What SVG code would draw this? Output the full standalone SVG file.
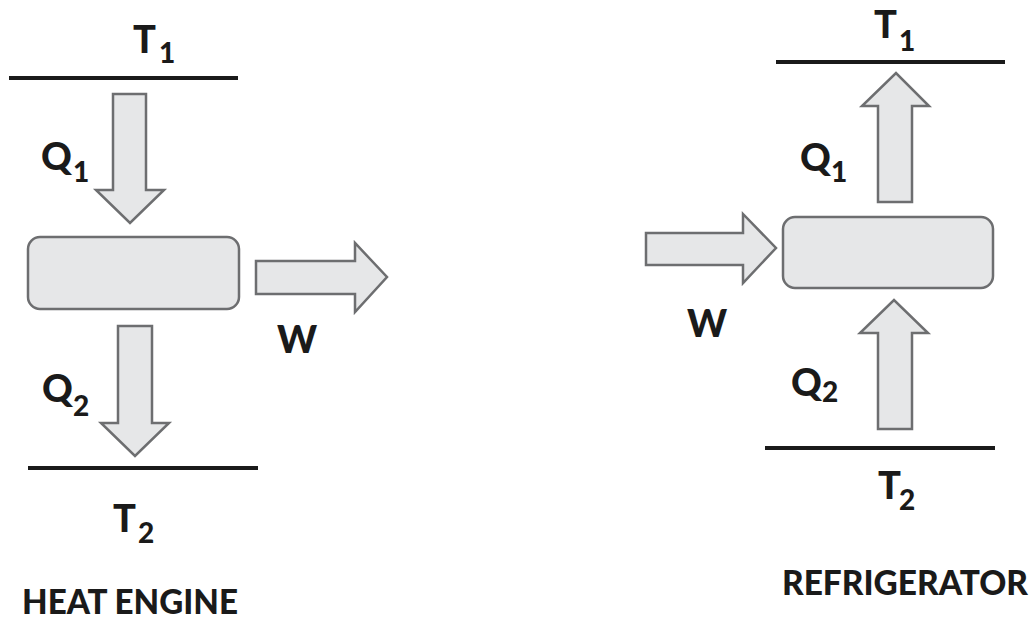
<svg xmlns="http://www.w3.org/2000/svg" width="1032" height="617" viewBox="0 0 1032 617">
<style>
.arr{fill:#e6e7e8;stroke:#6d6e70;stroke-width:2.5;stroke-linejoin:miter}
.box{fill:#e6e7e8;stroke:#6d6e70;stroke-width:2.5}
.res{stroke:#1a1a1a;stroke-width:4}
.lb{font-family:Lato,"Open Sans","Liberation Sans",sans-serif;font-weight:900;fill:#1a1a1a;font-size:38px}
.sb{font-size:28px}
.tt{font-family:Lato,"Open Sans","Liberation Sans",sans-serif;font-weight:900;fill:#1a1a1a;font-size:34px}
</style>
<rect width="1032" height="617" fill="#ffffff"/>
<g id="heat-engine">
  <g id="he-T1"><line class="res" x1="9" y1="78" x2="238" y2="78"/>
    <text class="lb" x="133" y="53">T<tspan class="sb" x="159" y="63">1</tspan></text></g>
  <g id="he-box"><rect class="box" x="28" y="237" width="211" height="72" rx="12"/></g>
  <g id="he-T2"><line class="res" x1="28" y1="468" x2="258" y2="468"/>
    <text class="lb" x="113" y="532">T<tspan class="sb" x="138" y="543">2</tspan></text></g>
  <text class="tt" x="22" y="614" textLength="216" lengthAdjust="spacingAndGlyphs">HEAT ENGINE</text>
</g>
<g id="refrigerator">
  <g id="rf-T1"><line class="res" x1="776" y1="62" x2="1005" y2="62"/>
    <text class="lb" x="874" y="38">T<tspan class="sb" x="899" y="51">1</tspan></text></g>
  <g id="rf-box"><rect class="box" x="783" y="217" width="210" height="71" rx="12"/></g>
  <g id="rf-T2"><line class="res" x1="765" y1="448" x2="995" y2="448"/>
    <text class="lb" x="878" y="499">T<tspan class="sb" x="899" y="510">2</tspan></text></g>
  <text class="tt" x="782" y="595" textLength="246" lengthAdjust="spacingAndGlyphs">REFRIGERATOR</text>
</g>
<g id="connectors">
  <path class="arr" d="M113,94 H146 V190 H164 L130,223 L96,190 H113 Z"/>
  <text class="lb" x="41" y="170">Q<tspan class="sb" x="73" y="182">1</tspan></text>
  <path class="arr" d="M256,261 H355 V243 L387,277 L355,312 V294 H256 Z"/>
  <text class="lb" x="277" y="353">W</text>
  <path class="arr" d="M118,326 H152 V423 H169 L135,456 L101,423 H118 Z"/>
  <text class="lb" x="42" y="402">Q<tspan class="sb" x="73" y="416">2</tspan></text>

  <path class="arr" d="M878,202 V106 H862 L896,73 L929,106 H912 V202 Z"/>
  <text class="lb" x="800" y="171">Q<tspan class="sb" x="831" y="182">1</tspan></text>
  <path class="arr" d="M646,233 H743 V214 L776,248 L743,283 V265 H646 Z"/>
  <text class="lb" x="687" y="337">W</text>
  <path class="arr" d="M878,429 V333 H860 L894,300 L928,333 H912 V429 Z"/>
  <text class="lb" x="791" y="396">Q<tspan class="sb" x="822" y="402">2</tspan></text>
</g>
</svg>
